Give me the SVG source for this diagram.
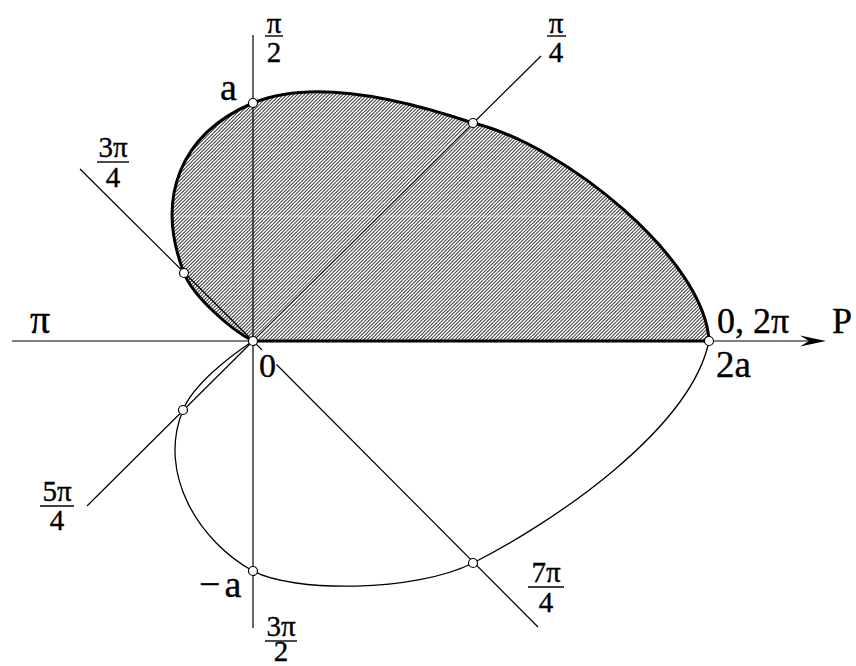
<svg xmlns="http://www.w3.org/2000/svg" width="856" height="666" viewBox="0 0 856 666">
<style>
  .lab text { fill: #000; stroke: #000; stroke-width: 0.35; }
  .frac { font-size: 29px; text-anchor: middle; }
  .thin { stroke: #000; stroke-width: 1.2; fill: none; }
  .bar { stroke: #000; stroke-width: 1.4; }
  .pt { fill: #fff; stroke: #000; stroke-width: 1.2; }
</style>
<defs>
  <pattern id="hatch" patternUnits="userSpaceOnUse" width="7" height="7">
    <path d="M-7,7 L0,0 M-3.5,7 L3.5,0 M0,7 L7,0 M3.5,7 L10.5,0 M7,7 L14,0" stroke="#444" stroke-width="1.1" fill="none"/>
  </pattern>
</defs>

<g id="region">
  <path d="M709,341 C705,260 565,145 473,123 C387.5,94 308,80 253,103 C179.4,134.2 155.2,198.6 184,273 C193,296.3 230.8,329.8 253,341 Z" fill="url(#hatch)"/>
  <line x1="174" y1="216" x2="626" y2="216" stroke="#fff" stroke-width="0.8" stroke-opacity="0.6"/>
</g>

<g id="axes">
  <line x1="12" y1="341" x2="812" y2="341" class="thin"/>
  <path d="M826,341 L800,335.5 L809,341 L800,346.5 Z" fill="#000"/>
  <line x1="253" y1="35" x2="253" y2="628" class="thin"/>
  <line x1="253" y1="341" x2="80" y2="169" class="thin"/>
  <line x1="253" y1="341" x2="87" y2="506" class="thin"/>
  <line x1="253" y1="341" x2="262" y2="350" class="thin"/>
  <line x1="276.5" y1="364.5" x2="538" y2="627" class="thin"/>
  <line x1="253" y1="341" x2="473" y2="123" stroke="#fff" stroke-width="2.4"/>
  <line x1="253" y1="341" x2="541" y2="56" class="thin"/>
</g>

<g id="curves">
  <path d="M709,341 C705,260 565,145 473,123 C387.5,94 308,80 253,103 C179.4,134.2 155.2,198.6 184,273 C193,296.3 230.8,329.8 253,341" fill="none" stroke="#000" stroke-width="3"/>
  <line x1="253" y1="341" x2="709" y2="341" stroke="#000" stroke-width="3"/>
  <path d="M253,341 C229.8,356.4 193.6,384.2 183,410 C156.4,474.4 200.2,542.2 253,571 C292.6,592.6 415.2,592.3 473,563 C553.1,522.5 691,429.2 709,341" fill="none" stroke="#000" stroke-width="1.3"/>
</g>

<g id="points">
  <circle cx="253" cy="341" r="4.5" class="pt"/>
  <circle cx="253" cy="103" r="4.5" class="pt"/>
  <circle cx="473" cy="123" r="4.5" class="pt"/>
  <circle cx="184" cy="273" r="4.5" class="pt"/>
  <circle cx="709" cy="341" r="4.5" class="pt"/>
  <circle cx="183" cy="410" r="4.5" class="pt"/>
  <circle cx="253" cy="571" r="4.5" class="pt"/>
  <circle cx="473" cy="563" r="4.5" class="pt"/>
</g>

<g id="labels" class="lab" font-family="Liberation Serif, Times New Roman, serif">
  <text x="30" y="333" font-size="40">π</text>
  <text x="220" y="100" font-size="38">a</text>
  <text x="259" y="377" font-size="34">0</text>
  <text x="717" y="333" font-size="36">0, 2π</text>
  <text x="832" y="333" font-size="36">P</text>
  <text x="716" y="377" font-size="37">2a</text>
  <text x="199" y="597" font-size="38">−<tspan dx="4">a</tspan></text>

  <g id="f_pi2">
    <text x="274" y="33" class="frac">π</text>
    <line x1="265" y1="36" x2="283" y2="36" class="bar"/>
    <text x="274" y="62" class="frac">2</text>
  </g>
  <g id="f_pi4">
    <text x="556" y="33" class="frac">π</text>
    <line x1="547" y1="36" x2="566" y2="36" class="bar"/>
    <text x="556" y="62" class="frac">4</text>
  </g>
  <g id="f_3pi4">
    <text x="113" y="157" class="frac">3π</text>
    <line x1="97" y1="162" x2="129" y2="162" class="bar"/>
    <text x="113" y="187" class="frac">4</text>
  </g>
  <g id="f_5pi4">
    <text x="57" y="501" class="frac">5π</text>
    <line x1="40" y1="506" x2="74" y2="506" class="bar"/>
    <text x="57" y="530" class="frac">4</text>
  </g>
  <g id="f_7pi4">
    <text x="546" y="582" class="frac">7π</text>
    <line x1="528" y1="587" x2="564" y2="587" class="bar"/>
    <text x="546" y="612" class="frac">4</text>
  </g>
  <g id="f_3pi2">
    <text x="281" y="636" class="frac" font-size="27">3π</text>
    <line x1="265" y1="641" x2="297" y2="641" class="bar"/>
    <text x="281" y="661" class="frac" font-size="27">2</text>
  </g>
</g>
</svg>
